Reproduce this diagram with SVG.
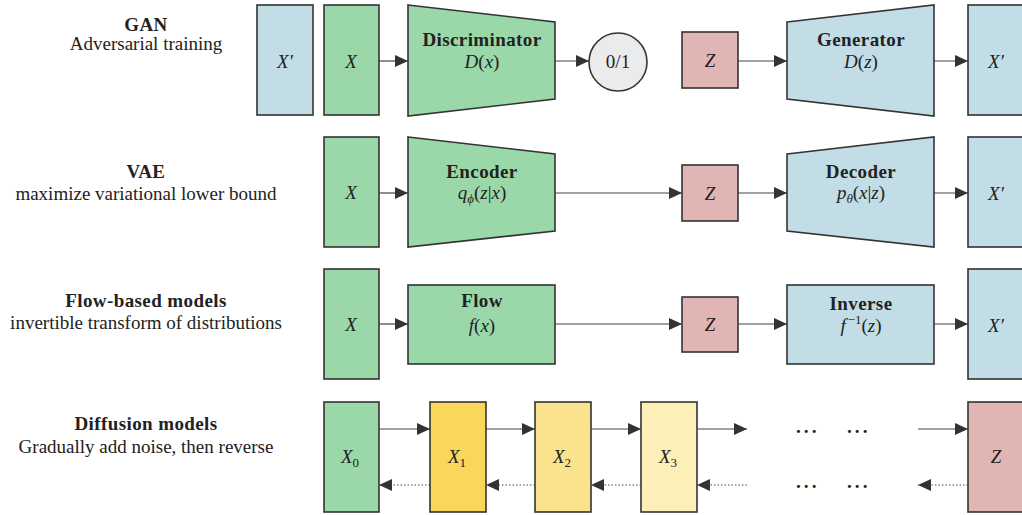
<svg xmlns="http://www.w3.org/2000/svg" width="1022" height="515" viewBox="0 0 1022 515">
<defs>
<marker id="ah" markerUnits="userSpaceOnUse" markerWidth="14" markerHeight="12" refX="13" refY="6" orient="auto">
<path d="M0,0 L13,6 L0,12 z" fill="#333"/>
</marker>
<style>
.n{stroke:#333;stroke-width:1.6}
.g{fill:#9ad8aa}.b{fill:#c2dde6}.p{fill:#e2b5b5}.c{fill:#ebebeb}
.y1{fill:#f9d75b}.y2{fill:#fbe38e}.y3{fill:#fdefb8}
text{font-family:"Liberation Serif","DejaVu Serif",serif;fill:#222;text-anchor:middle}
.t{font-size:19px;font-weight:bold;letter-spacing:0.4px}
.s{font-size:19px}
.m{font-size:19px;font-style:italic}
.r{font-style:normal}
.e{stroke:#444;stroke-width:1.2;fill:none}
.d{stroke:#444;stroke-width:1.2;fill:none;stroke-dasharray:1.5 2}
.dots{font-size:19px;letter-spacing:1.5px;font-weight:bold}
</style>
</defs>
<rect width="1022" height="515" fill="#fff"/>

<g id="labels">
<text class="t" x="146" y="31">GAN</text>
<text class="s" x="146" y="50">Adversarial training</text>
<text class="t" x="146" y="178">VAE</text>
<text class="s" x="146" y="200">maximize variational lower bound</text>
<text class="t" x="146" y="307">Flow-based models</text>
<text class="s" x="146" y="329">invertible transform of distributions</text>
<text class="t" x="146" y="430">Diffusion models</text>
<text class="s" x="146" y="453">Gradually add noise, then reverse</text>
</g>

<!-- GAN row -->
<g id="gan-xp"><rect class="n b" x="257" y="5" width="56" height="110"/><text class="m" x="285" y="68">X′</text></g>
<g id="gan-x"><rect class="n g" x="324" y="5" width="55" height="110"/><text class="m" x="351" y="68">X</text></g>
<g id="gan-disc"><polygon class="n g" points="408,5 555,22 555,99 408,116"/><text class="t" x="482" y="46">Discriminator</text><text class="m" x="482" y="68">D<tspan class="r">(</tspan>x<tspan class="r">)</tspan></text></g>
<g id="gan-out"><circle class="n c" cx="618" cy="62" r="29"/><text class="s" x="618" y="68">0/1</text></g>
<g id="gan-z"><rect class="n p" x="682" y="32" width="56" height="56"/><text class="m" x="710" y="67">Z</text></g>
<g id="gan-gen"><polygon class="n b" points="787,22 934,5 934,116 787,99"/><text class="t" x="861" y="46">Generator</text><text class="m" x="861" y="68">D<tspan class="r">(</tspan>z<tspan class="r">)</tspan></text></g>
<g id="gan-xp2"><rect class="n b" x="968" y="5" width="60" height="110"/><text class="m" x="996" y="68">X′</text></g>

<!-- VAE row -->
<g id="vae-x"><rect class="n g" x="324" y="137" width="55" height="110"/><text class="m" x="351" y="199">X</text></g>
<g id="vae-enc"><polygon class="n g" points="408,137 555,154 555,231 408,247"/><text class="t" x="482" y="178">Encoder</text><text class="m" x="482" y="199">q<tspan font-size="13" dy="4">ϕ</tspan><tspan class="r" dy="-4">(</tspan>z<tspan class="r">|</tspan>x<tspan class="r">)</tspan></text></g>
<g id="vae-z"><rect class="n p" x="682" y="165" width="56" height="56"/><text class="m" x="710" y="200">Z</text></g>
<g id="vae-dec"><polygon class="n b" points="787,154 934,137 934,247 787,231"/><text class="t" x="861" y="178">Decoder</text><text class="m" x="861" y="199">p<tspan font-size="13" dy="4">θ</tspan><tspan class="r" dy="-4">(</tspan>x<tspan class="r">|</tspan>z<tspan class="r">)</tspan></text></g>
<g id="vae-xp"><rect class="n b" x="968" y="137" width="60" height="110"/><text class="m" x="996" y="200">X′</text></g>

<!-- Flow row -->
<g id="flow-x"><rect class="n g" x="324" y="269" width="55" height="110"/><text class="m" x="351" y="331">X</text></g>
<g id="flow-f"><rect class="n g" x="408" y="285" width="147" height="79"/><text class="t" x="482" y="307">Flow</text><text class="m" x="482" y="332">f<tspan class="r">(</tspan>x<tspan class="r">)</tspan></text></g>
<g id="flow-z"><rect class="n p" x="682" y="297" width="56" height="55"/><text class="m" x="710" y="331">Z</text></g>
<g id="flow-inv"><rect class="n b" x="787" y="285" width="147" height="79"/><text class="t" x="861" y="310">Inverse</text><text class="m" x="861" y="332">f<tspan class="r" font-size="13" dy="-8" dx="2">−1</tspan><tspan class="r" dy="8">(</tspan>z<tspan class="r">)</tspan></text></g>
<g id="flow-xp"><rect class="n b" x="968" y="269" width="60" height="110"/><text class="m" x="996" y="332">X′</text></g>

<!-- Diffusion row -->
<g id="dif-x0"><rect class="n g" x="324" y="402" width="55" height="110"/><text class="m" x="350" y="463">X<tspan class="r" font-size="13" dy="4">0</tspan></text></g>
<g id="dif-x1"><rect class="n y1" x="430" y="402" width="56" height="110"/><text class="m" x="457" y="463">X<tspan class="r" font-size="13" dy="4">1</tspan></text></g>
<g id="dif-x2"><rect class="n y2" x="535" y="402" width="56" height="110"/><text class="m" x="562" y="463">X<tspan class="r" font-size="13" dy="4">2</tspan></text></g>
<g id="dif-x3"><rect class="n y3" x="641" y="402" width="56" height="110"/><text class="m" x="668" y="463">X<tspan class="r" font-size="13" dy="4">3</tspan></text></g>
<g id="dif-z"><rect class="n p" x="968" y="402" width="60" height="110"/><text class="m" x="996" y="463">Z</text></g>
<g id="dif-dots">
<text class="dots" x="807" y="438">···</text>
<text class="dots" x="858" y="438">···</text>
<text class="dots" x="807" y="493">···</text>
<text class="dots" x="858" y="493">···</text>
</g>

<g id="connectors">
<line class="e" x1="379" y1="61" x2="408" y2="61" marker-end="url(#ah)"/>
<line class="e" x1="555" y1="61" x2="589" y2="61" marker-end="url(#ah)"/>
<line class="e" x1="738" y1="61" x2="787" y2="61" marker-end="url(#ah)"/>
<line class="e" x1="934" y1="61" x2="968" y2="61" marker-end="url(#ah)"/>

<line class="e" x1="379" y1="193" x2="408" y2="193" marker-end="url(#ah)"/>
<line class="e" x1="555" y1="193" x2="682" y2="193" marker-end="url(#ah)"/>
<line class="e" x1="738" y1="193" x2="787" y2="193" marker-end="url(#ah)"/>
<line class="e" x1="934" y1="193" x2="968" y2="193" marker-end="url(#ah)"/>

<line class="e" x1="379" y1="324" x2="408" y2="324" marker-end="url(#ah)"/>
<line class="e" x1="555" y1="324" x2="682" y2="324" marker-end="url(#ah)"/>
<line class="e" x1="738" y1="324" x2="787" y2="324" marker-end="url(#ah)"/>
<line class="e" x1="934" y1="324" x2="968" y2="324" marker-end="url(#ah)"/>

<line class="e" x1="379" y1="429" x2="430" y2="429" marker-end="url(#ah)"/>
<line class="e" x1="486" y1="429" x2="535" y2="429" marker-end="url(#ah)"/>
<line class="e" x1="591" y1="429" x2="641" y2="429" marker-end="url(#ah)"/>
<line class="e" x1="697" y1="429" x2="747" y2="429" marker-end="url(#ah)"/>
<line class="e" x1="918" y1="429" x2="968" y2="429" marker-end="url(#ah)"/>

<line class="d" x1="430" y1="485" x2="379" y2="485" marker-end="url(#ah)"/>
<line class="d" x1="535" y1="485" x2="486" y2="485" marker-end="url(#ah)"/>
<line class="d" x1="641" y1="485" x2="591" y2="485" marker-end="url(#ah)"/>
<line class="d" x1="747" y1="485" x2="697" y2="485" marker-end="url(#ah)"/>
<line class="d" x1="968" y1="485" x2="918" y2="485" marker-end="url(#ah)"/>
</g>
</svg>
